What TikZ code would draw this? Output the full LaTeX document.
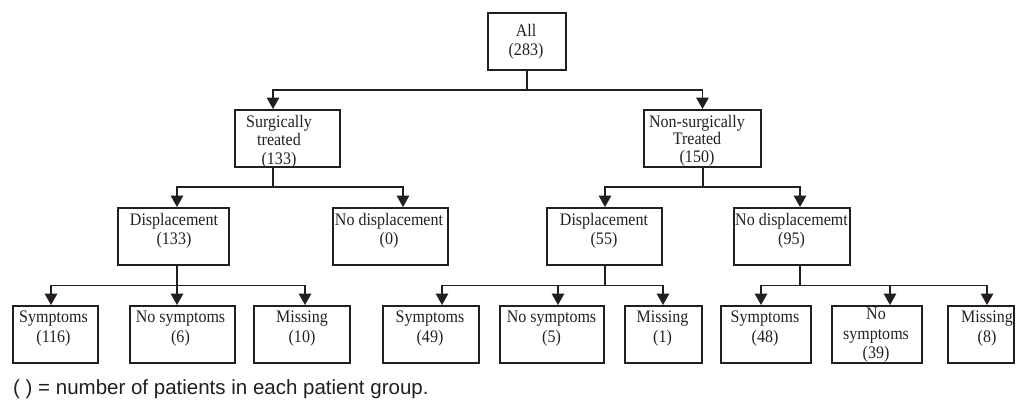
\documentclass[tikz,border=0pt]{standalone}
\usepackage{fontspec}
\setmainfont{Liberation Serif}[FakeStretch=0.91]
\newfontfamily\capfont{Liberation Sans}
\usetikzlibrary{arrows.meta}
\definecolor{ink}{HTML}{231F20}
\tikzset{
  box/.style={draw=ink, line width=2.2pt, rectangle, minimum height=56.8pt, inner sep=0pt},
  txt/.style={anchor=north, inner sep=0pt, align=center, text=ink, font=\fontsize{17.6}{19.5}\selectfont},
  ln/.style={draw=ink, line width=1.6pt},
  arr/.style={ln, -{Triangle[width=12.5pt,length=11.5pt]}},
}
\begin{document}
\begin{tikzpicture}[x=1pt,y=-1pt]
\useasboundingbox (0,0) rectangle (1017,400);
% level 0
\node[box, minimum width=77.8pt] (all) at (527,41.5) {};
\node[txt] (allt) at (526,23.8) {All\\(283)};
% level 1
\node[box, minimum width=104.8pt] (surg) at (287.5,138.5) {};
\node[txt, font=\fontsize{17.6}{18.5}\selectfont] (surgt) at (279,114.8) {Surgically\\treated\\(133)};
\node[box, minimum width=116.8pt] (nons) at (702.5,138.5) {};
\node[txt, font=\fontsize{17.6}{17.5}\selectfont] (nonst) at (697,114.8) {Non-surgically\\Treated\\(150)};
% level 2
\node[box, minimum width=110.8pt] (d133) at (173.5,236.5) {};
\node[txt] (d133t) at (174,212.8) {Displacement\\(133)};
\node[box, minimum width=114.8pt] (nd0) at (390.5,236.5) {};
\node[txt] (nd0t) at (389,212.8) {No displacement\\(0)};
\node[box, minimum width=114.8pt] (d55) at (604.5,236.5) {};
\node[txt] (d55t) at (604,212.8) {Displacement\\(55)};
\node[box, minimum width=115.8pt] (nd95) at (792,236.5) {};
\node[txt] (nd95t) at (791.5,212.8) {No displacememt\\(95)};
% level 3
\node[box, minimum width=84.8pt] (s116) at (55.5,334.5) {};
\node[txt] (s116t) at (53.5,310.8) {Symptoms\\(116)};
\node[box, minimum width=104.8pt] (ns6) at (182.5,334.5) {};
\node[txt] (ns6t) at (180.5,310.8) {No symptoms\\(6)};
\node[box, minimum width=95.8pt] (m10) at (302,334.5) {};
\node[txt] (m10t) at (302,310.8) {Missing\\(10)};
\node[box, minimum width=95.8pt] (s49) at (431,334.5) {};
\node[txt] (s49t) at (430,310.8) {Symptoms\\(49)};
\node[box, minimum width=103.8pt] (ns5) at (552,334.5) {};
\node[txt] (ns5t) at (551.5,310.8) {No symptoms\\(5)};
\node[box, minimum width=76.8pt] (m1) at (663.5,334.5) {};
\node[txt] (m1t) at (662.5,310.8) {Missing\\(1)};
\node[box, minimum width=89.8pt] (s48) at (766,334.5) {};
\node[txt] (s48t) at (765,310.8) {Symptoms\\(48)};
\node[box, minimum width=89.8pt] (ns39) at (877,334.5) {};
\node[txt] (ns39t) at (876,307.8) {No\\symptoms\\(39)};
\node[box, minimum width=65.8pt] (m8) at (981,334.5) {};
\node[txt] (m8t) at (987,310.8) {Missing\\(8)};
% connectors level 0 -> 1
\draw[arr] (all.south) -- ++(0,19) -| ([xshift=-14.5pt]surg.north);
\draw[arr] (all.south) -- ++(0,19) -| (nons.north);
% level 1 -> 2
\draw[arr] ([xshift=-14.5pt]surg.south) -- ++(0,19) -| ([xshift=3.5pt]d133.north);
\draw[arr] ([xshift=-14.5pt]surg.south) -- ++(0,19) -| ([xshift=12.5pt]nd0.north);
\draw[arr] ([xshift=0.5pt]nons.south) -- ++(0,19) -| ([xshift=0.5pt]d55.north);
\draw[arr] ([xshift=0.5pt]nons.south) -- ++(0,19) -| ([xshift=8pt]nd95.north);
% level 2 -> 3
\draw[arr] ([xshift=3.5pt]d133.south) -- ++(0,19.5) -| ([xshift=-4.5pt]s116.north);
\draw[arr] ([xshift=3.5pt]d133.south) -- ++(0,19.5) -| ([xshift=-5.5pt]ns6.north);
\draw[arr] ([xshift=3.5pt]d133.south) -- ++(0,19.5) -| ([xshift=3pt]m10.north);
\draw[arr] ([xshift=0.5pt]d55.south) -- ++(0,19.5) -| ([xshift=11pt]s49.north);
\draw[arr] ([xshift=0.5pt]d55.south) -- ++(0,19.5) -| ([xshift=6pt]ns5.north);
\draw[arr] ([xshift=0.5pt]d55.south) -- ++(0,19.5) -| ([xshift=-0.5pt]m1.north);
\draw[arr] ([xshift=8pt]nd95.south) -- ++(0,19.5) -| ([xshift=-5pt]s48.north);
\draw[arr] ([xshift=8pt]nd95.south) -- ++(0,19.5) -| ([xshift=13pt]ns39.north);
\draw[arr] ([xshift=8pt]nd95.south) -- ++(0,19.5) -| ([xshift=6pt]m8.north);
% caption
\node[anchor=base west, inner sep=0pt, text=ink, font=\capfont\fontsize{20.5}{24}\selectfont] (cap) at (13,394) {( ) = number of patients in each patient group.};
\end{tikzpicture}
\end{document}
